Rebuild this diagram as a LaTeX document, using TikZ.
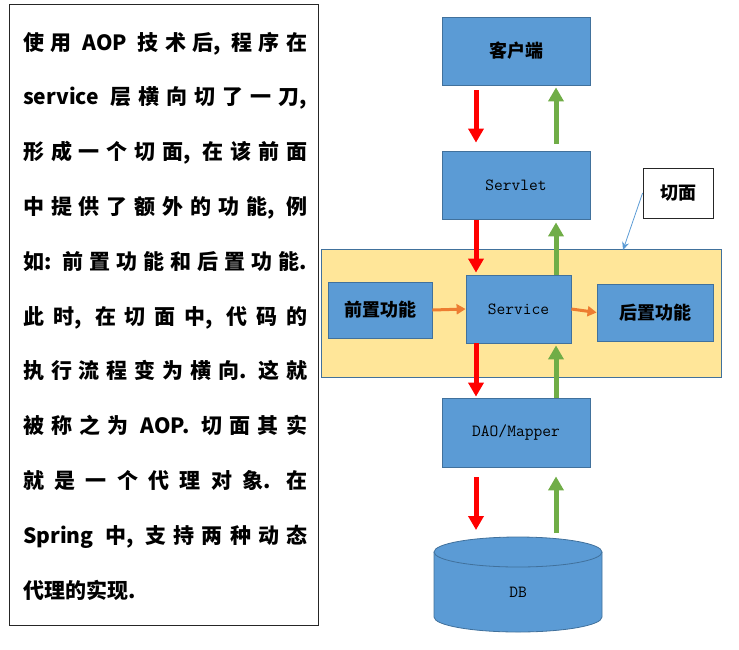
\documentclass[tikz,border=0pt]{standalone}
\usepackage{fontspec}
\newfontfamily\cjk{Noto Sans CJK SC}
\usetikzlibrary{arrows.meta,calc}
\definecolor{boxblue}{HTML}{5B9BD5}
\definecolor{boxline}{HTML}{41719C}
\definecolor{aspectfill}{HTML}{FFE699}
\definecolor{upgreen}{HTML}{70AD47}
\definecolor{downred}{HTML}{FF0000}
\definecolor{sideorange}{HTML}{ED7D31}
\def\sprA#1{#1\sprB}
\def\sprB#1{\ifx\relax#1\relax\else\hfil#1\expandafter\sprB\fi}
\newcommand\spr[1]{\hbox to 284pt{\sprA#1\relax}}
\begin{document}
\begin{tikzpicture}[x=1pt,y=-1pt,
  bluebox/.style={draw=boxline, fill=boxblue, line width=0.8pt, inner sep=0pt},
  cjklabel/.style={font=\cjk\bfseries\fontsize{18}{18}\selectfont},
  monolabel/.style={font=\ttfamily\fontsize{17}{17}\selectfont},
  lefttext/.style={anchor=base west, inner sep=0pt, font=\cjk\bfseries\fontsize{21}{21}\selectfont},
  redarr/.style={draw=downred, line width=5pt, -{Triangle[width=15pt,length=14pt]}},
  greenarr/.style={draw=upgreen, line width=5pt, -{Triangle[width=15pt,length=14pt]}},
  orarr/.style={draw=sideorange, line width=3pt, -{Triangle[width=10pt,length=9pt]}},
  thinarr/.style={draw=boxblue, line width=0.8pt, -{Stealth[width=7pt,length=8pt]}}
]
\useasboundingbox (0,0) rectangle (739,649);

% left text box
\node[draw=black!85, line width=1pt, minimum width=309pt, minimum height=621pt, inner sep=0pt] (textbox) at (163.5,314.5) {};
\node[lefttext] (t1) at (23,50.0) {\spr{使用{\ AOP\ }技术{后,\ }程序在}};
\node[lefttext] (t2) at (23,104.8) {\spr{{service\ }层横向切了一{刀,}}};
\node[lefttext] (t3) at (23,159.6) {\spr{形成一个切{面,\ }在该前面}};
\node[lefttext] (t4) at (23,214.4) {\spr{中提供了额外的功{能,\ }例}};
\node[lefttext] (t5) at (23,269.2) {\spr{{如:\ }前置功能和后置功{能.}}};
\node[lefttext] (t6) at (23,324.0) {\spr{此{时,\ }在切面{中,\ }代码的}};
\node[lefttext] (t7) at (23,378.8) {\spr{执行流程变为横{向.\ }这就}};
\node[lefttext] (t8) at (23,433.6) {\spr{被称之为{\ AOP.\ }切面其实}};
\node[lefttext] (t9) at (23,488.4) {\spr{就是一个代理对{象.\ }在}};
\node[lefttext] (t10) at (23,543.2) {\spr{{Spring\ }{中,\ }支持两种动态}};
\node[lefttext] (t11) at (23,598.0) {代理的实现.};

% aspect (yellow) region
\node[draw=boxline, fill=aspectfill, line width=0.8pt, minimum width=400pt, minimum height=128pt, inner sep=0pt] (aspect) at (521,313) {};

% boxes
\node[bluebox, cjklabel, minimum width=148pt, minimum height=68pt] (client) at (516,51) {客户端};
\node[bluebox, monolabel, minimum width=148pt, minimum height=68pt] (servlet) at (516,185) {Servlet};
\node[bluebox, monolabel, minimum width=105pt, minimum height=68pt] (service) at (518.5,309) {Service};
\node[bluebox, cjklabel, minimum width=104pt, minimum height=56pt] (pre) at (380,310) {前置功能};
\node[bluebox, cjklabel, minimum width=116pt, minimum height=57pt] (post) at (655,312.5) {后置功能};
\node[bluebox, monolabel, minimum width=148pt, minimum height=69pt] (dao) at (516,432.5) {DAO/Mapper};

% DB cylinder
\fill[boxblue] (434,552) -- (434,617) arc[start angle=180, end angle=0, x radius=84, y radius=15] -- (602,552) -- cycle;
\draw[boxline, line width=0.8pt] (434,552) -- (434,617) arc[start angle=180, end angle=0, x radius=84, y radius=15] -- (602,552);
\draw[boxline, fill=boxblue, line width=0.8pt] (518,552) ellipse[x radius=84, y radius=15];
\node[monolabel] (db) at (518,592) {DB};
\coordinate (dbtop) at (518,537);

% label 切面
\node[draw=black!85, fill=white, line width=0.8pt, cjklabel, minimum width=70pt, minimum height=50pt, inner sep=0pt] (qm) at (678,193) {切面};
\coordinate (qtip) at (623,250);
\draw[thinarr] (qm.west) -- (qtip);

% column coordinates
\coordinate (xr) at (476,0);
\coordinate (xg) at (556,0);

% red (down) arrows
\draw[redarr] ($(client.south -| xr)+(0,5)$) -- ($(servlet.north -| xr)+(0,-8)$);
\draw[redarr] ($(servlet.south -| xr)+(0,1)$) -- ($(service.north -| xr)+(0,-2)$);
\draw[redarr] (service.south -| xr) -- ($(dao.north -| xr)+(0,-1)$);
\draw[redarr] ($(dao.south -| xr)+(0,10)$) -- ($(dbtop -| xr)+(0,-7)$);

% green (up) arrows
\draw[greenarr] ($(servlet.north -| xg)+(0,-7)$) -- ($(client.south -| xg)+(0,2)$);
\draw[greenarr] (service.north -| xg) -- ($(servlet.south -| xg)+(0,3)$);
\draw[greenarr] (dao.north -| xg) -- ($(service.south -| xg)+(0,2)$);
\draw[greenarr] ($(dbtop -| xg)+(0,-4)$) -- ($(dao.south -| xg)+(0,9)$);

% orange arrows
\draw[orarr] (pre.east) -- (service.west);
\draw[orarr] (service.east) -- (post.west);
\end{tikzpicture}
\end{document}
